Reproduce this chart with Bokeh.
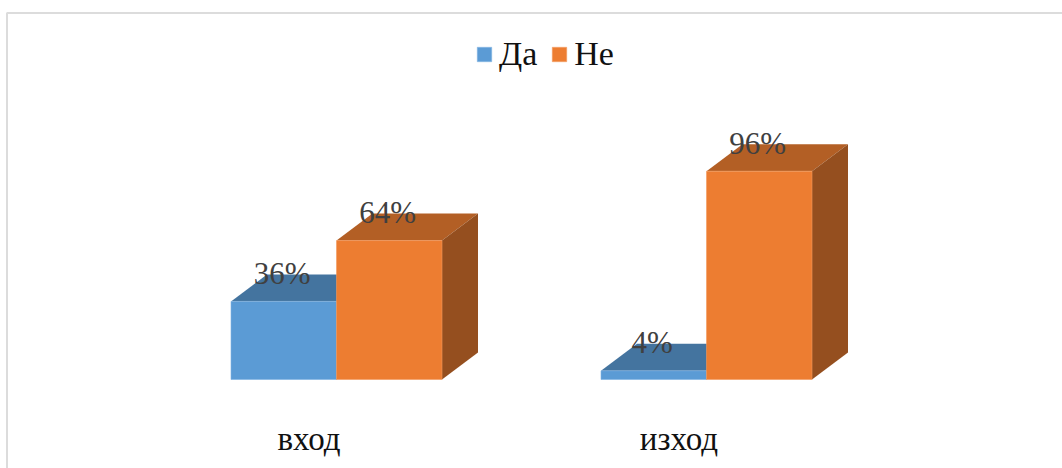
from bokeh.core.properties import value
from bokeh.embed import file_html
from bokeh.models import ColumnDataSource, Legend, LegendItem
from bokeh.plotting import figure
from bokeh.resources import INLINE

categories = ["вход", "изход"]
series_names = ["Да", "Не"]
yes_values = [36, 4]
no_values = [64, 96]

WIDTH, HEIGHT = 1062, 468
PX_PER_UNIT_X = 370.0
PX_PER_PCT = 2.17
ORIGIN_X, ORIGIN_Y = 336.0, 379.0

BAR_W = 105.5 / PX_PER_UNIT_X
DEPTH_X = 36 / PX_PER_UNIT_X
DEPTH_Y = 27 / PX_PER_PCT

FRONT = ["#5b9bd5", "#ed7d31"]
TOP = ["#44749f", "#b35f25"]
SIDE = ["#3d6a93", "#954f1f"]
EDGE = ["#7fb2e2", "#f49a5e"]

SERIF = value("Liberation Serif")

p = figure(
    width=WIDTH, height=HEIGHT, output_backend="svg", toolbar_location=None,
    x_range=(-ORIGIN_X / PX_PER_UNIT_X, (WIDTH - ORIGIN_X) / PX_PER_UNIT_X),
    y_range=((ORIGIN_Y - HEIGHT) / PX_PER_PCT, ORIGIN_Y / PX_PER_PCT),
    min_border=0, outline_line_color=None, background_fill_color="white",
)
p.xaxis.visible = False
p.yaxis.visible = False
p.grid.visible = False


def sx(px):
    return (px - ORIGIN_X) / PX_PER_UNIT_X


def sy(px):
    return (ORIGIN_Y - px) / PX_PER_PCT


# thin frame around the chart area, open on the right and at the bottom
p.line([sx(6.5), sx(6.5), sx(WIDTH)], [sy(HEIGHT), sy(12.5), sy(12.5)],
       line_color="#dcdcdc", line_width=2)

# pseudo-3D clustered columns: top and side faces first, then the front
legend_items = []
for s, vals in enumerate([yes_values, no_values]):
    left = [i - BAR_W if s == 0 else i for i in range(len(vals))]
    right = [l + BAR_W for l in left]
    tops_x = [[l, l + DEPTH_X, r + DEPTH_X, r] for l, r in zip(left, right)]
    tops_y = [[v, v + DEPTH_Y, v + DEPTH_Y, v] for v in vals]
    sides_x = [[r, r + DEPTH_X, r + DEPTH_X, r] for r in right]
    sides_y = [[0, DEPTH_Y, v + DEPTH_Y, v] for v in vals]
    p.patches(tops_x, tops_y, fill_color=TOP[s], line_color=None)
    p.patches(sides_x, sides_y, fill_color=SIDE[s], line_color=None)
    front = p.quad(left=left, right=right, bottom=0, top=vals,
                   fill_color=FRONT[s], line_color=EDGE[s], line_width=0.6)
    legend_items.append(LegendItem(label=series_names[s], renderers=[front]))

# percentage labels sit just above each column's front face
for s, vals in enumerate([yes_values, no_values]):
    centers = [i - BAR_W / 2 if s == 0 else i + BAR_W / 2 for i in range(len(vals))]
    src = ColumnDataSource(dict(x=centers, y=vals, t=[f"{v}%" for v in vals]))
    p.text("x", "y", text="t", source=src, text_font=SERIF, text_font_size="31px",
           text_color="#404040", text_align="center", text_baseline="alphabetic",
           x_offset=-1.5, y_offset=-28)

# category names under the columns
cat_src = ColumnDataSource(dict(x=list(range(len(categories))), y=[0] * len(categories), t=categories))
p.text("x", "y", text="t", source=cat_src, text_font=SERIF, text_font_size="33px",
       text_color="#111111", text_align="center", text_baseline="alphabetic",
       x_offset=-27.5, y_offset=59)

legend = Legend(items=legend_items, orientation="horizontal", location=(475, HEIGHT - 73),
                background_fill_alpha=0, border_line_color=None,
                glyph_width=18, glyph_height=18, label_standoff=6, spacing=13,
                label_text_font="Liberation Serif", label_text_font_size="34px",
                label_text_color="#111111", margin=0, padding=8)
p.add_layout(legend)

open("out.html", "w").write(file_html(p, INLINE))
